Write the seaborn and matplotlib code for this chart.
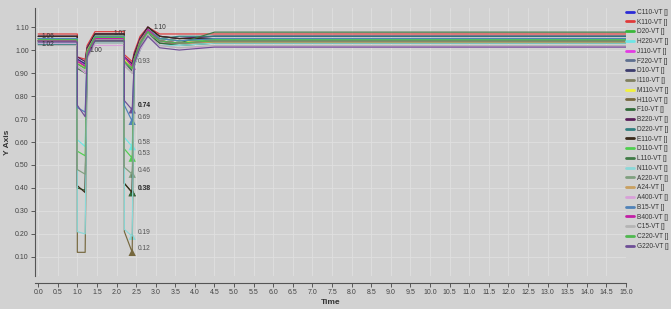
import numpy as np
import pandas as pd
import matplotlib
matplotlib.use("Agg")
import matplotlib.pyplot as plt
import seaborn as sns

# bus voltage names and colours (legend order)
buses = ["C110", "K110", "D20", "H220", "J110", "F220", "D10", "I110", "M110",
         "H110", "F10", "B220", "D220", "E110", "D110", "L110", "N110", "A220",
         "A24", "A400", "B15", "B400", "C15", "C220", "G220"]
bus_colors = ["#2b2bd6", "#e03a3a", "#3ab83a", "#6ee6e6", "#e33ae3", "#5f7090",
              "#3c3c6e", "#7f7f5f", "#f2f23c", "#76683e", "#2f6a38", "#5a1f5a",
              "#2f7f80", "#3a2a1a", "#4fcf4f", "#3f7a46", "#8ad8d8", "#7fa07f",
              "#c9a060", "#d8a0d8", "#4f82b8", "#c21fa6", "#b4b4b4", "#4eb84e",
              "#6e4e96"]

# breakpoints of the simulation (s)
times = [0.0, 1.0, 1.0, 1.2, 1.25, 1.45, 2.2, 2.2, 2.4, 2.45, 2.6, 2.8, 3.1, 3.6, 4.5, 15.0]

# voltage (pu) of every bus at each stage
pre = [1.05, 1.07, 1.04, 1.03, 1.04, 1.05, 1.06, 1.04, 1.05, 1.04, 1.03, 1.06, 1.025,
       1.06, 1.05, 1.04, 1.03, 1.04, 1.05, 1.03, 1.05, 1.04, 1.02, 1.045, 1.035]
f1_start = [0.96, 0.97, 0.95, 0.61, 0.96, 0.95, 0.96, 0.93, 0.95, 0.12, 0.40, 0.97, 0.94,
            0.41, 0.56, 0.92, 0.21, 0.48, 0.94, 0.93, 0.75, 0.95, 0.93, 0.94, 0.76]
f1_end = [0.94, 0.96, 0.93, 0.58, 0.93, 0.93, 0.94, 0.90, 0.92, 0.12, 0.39, 0.95, 0.92,
          0.38, 0.54, 0.90, 0.20, 0.46, 0.92, 0.90, 0.73, 0.93, 0.91, 0.92, 0.71]
rec1 = [1.00, 1.02, 0.99, 0.97, 0.98, 1.00, 1.01, 0.98, 0.99, 0.97, 0.97, 1.01, 0.98,
        1.00, 0.99, 0.98, 0.97, 0.98, 1.00, 0.97, 0.99, 0.98, 0.96, 0.99, 0.97]
post1 = [1.06, 1.08, 1.05, 1.04, 1.05, 1.06, 1.07, 1.05, 1.06, 1.04, 1.04, 1.07, 1.03,
         1.07, 1.06, 1.05, 1.03, 1.05, 1.06, 1.02, 1.06, 1.05, 1.03, 1.055, 1.04]
f2_start = [0.96, 0.98, 0.95, 0.62, 0.96, 0.96, 0.97, 0.94, 0.96, 0.21, 0.42, 0.97, 0.95,
            0.42, 0.57, 0.94, 0.22, 0.49, 0.95, 0.94, 0.76, 0.97, 0.93, 0.95, 0.78]
f2_end = [0.92, 0.95, 0.92, 0.58, 0.91, 0.93, 0.94, 0.90, 0.92, 0.12, 0.38, 0.94, 0.91,
          0.38, 0.53, 0.91, 0.19, 0.46, 0.92, 0.90, 0.69, 0.93, 0.90, 0.92, 0.74]
rec2 = [0.97, 0.99, 0.96, 0.93, 0.96, 0.97, 0.98, 0.95, 0.96, 0.93, 0.93, 0.98, 0.95,
        0.97, 0.95, 0.95, 0.93, 0.94, 0.96, 0.94, 0.95, 0.96, 0.93, 0.96, 0.94]
rise = [1.04, 1.06, 1.03, 1.01, 1.03, 1.04, 1.05, 1.02, 1.04, 1.01, 1.00, 1.05, 1.02,
        1.04, 1.03, 1.02, 1.00, 1.02, 1.04, 1.00, 1.03, 1.03, 1.01, 1.03, 1.01]
peak = [1.09, 1.10, 1.08, 1.07, 1.09, 1.09, 1.10, 1.08, 1.09, 1.07, 1.07, 1.10, 1.08,
        1.10, 1.09, 1.08, 1.06, 1.08, 1.09, 1.06, 1.09, 1.09, 1.07, 1.08, 1.06]
settle = [1.05, 1.07, 1.04, 1.03, 1.04, 1.05, 1.06, 1.04, 1.05, 1.03, 1.03, 1.06, 1.05,
          1.06, 1.05, 1.04, 1.02, 1.04, 1.04, 1.02, 1.05, 1.04, 1.02, 1.04, 1.01]
dip = [1.04, 1.07, 1.03, 1.02, 1.03, 1.04, 1.05, 1.03, 1.04, 1.03, 1.02, 1.05, 1.06,
       1.05, 1.04, 1.03, 1.02, 1.03, 1.03, 1.01, 1.04, 1.03, 1.01, 1.03, 1.00]
final = [1.05, 1.07, 1.045, 1.03, 1.04, 1.05, 1.06, 1.035, 1.035, 1.035, 1.03, 1.06, 1.06,
         1.05, 1.045, 1.078, 1.03, 1.04, 1.035, 1.013, 1.05, 1.04, 1.02, 1.04, 1.013]

stages = [pre, pre, f1_start, f1_end, rec1, post1, post1, f2_start, f2_end,
          rec2, rise, peak, settle, dip, final, final]

# buses marked at the end of the second fault
marked = ["B400", "G220", "B15", "H220", "D110", "A220", "E110", "F10", "N110", "H110"]
bold_marks = ["G220", "E110"]
marker_time = 2.4

# extra value notes on the curves
note_bus = ["D10", "D220", "E110", "B220", "K110"]
note_time = [0.05, 0.05, 1.27, 1.9, 2.9]
note_stage = [0, 0, 4, 5, 11]

rows = []
for t, vals in zip(times, stages):
    for b, v in zip(buses, vals):
        rows.append({"Time": t, "value": v, "bus": b + "-VT []"})
df = pd.DataFrame(rows)

bg = "#d2d2d2"
sns.set_style("whitegrid", {"axes.facecolor": bg, "figure.facecolor": bg,
                            "grid.color": "#e0e0e0", "axes.edgecolor": "#555555"})
plt.rcParams["font.family"] = ["Liberation Sans", "DejaVu Sans"]

fig = plt.figure(figsize=(6.71, 3.09), dpi=100)
ax = fig.add_axes([35 / 671, 1 - 276 / 309, (626 - 35) / 671, (276 - 8) / 309])

palette = dict(zip([b + "-VT []" for b in buses], bus_colors))
sns.lineplot(data=df, x="Time", y="value", hue="bus", palette=palette,
             sort=False, estimator=None, linewidth=0.85, ax=ax)

mk = pd.DataFrame({"Time": [marker_time] * len(marked),
                   "value": [f2_end[buses.index(b)] for b in marked],
                   "bus": [b + "-VT []" for b in marked]})
sns.scatterplot(data=mk, x="Time", y="value", hue="bus", palette=palette,
                marker="^", s=28, edgecolor="none", legend=False, ax=ax)
for b, v in zip(marked, mk["value"]):
    ax.annotate(f"{v:.2f}", (marker_time, v), xytext=(4, 3), textcoords="offset points",
                fontsize=4.8, va="center",
                color="#222222" if b in bold_marks else "#555555",
                fontweight="bold" if b in bold_marks else "normal")

for b, t, s in zip(note_bus, note_time, note_stage):
    v = stages[s][buses.index(b)]
    ax.annotate(f"{v:.2f}", (t, v), xytext=(1, 0), textcoords="offset points",
                fontsize=4.8, va="center", color="#333333")

ax.set_xlim(-0.08, 15.0)
ax.set_ylim(0.017, 1.183)
ax.set_xticks(np.arange(0, 15.01, 0.5))
ax.set_yticks(np.arange(0.1, 1.101, 0.1))
ax.xaxis.set_major_formatter(matplotlib.ticker.FormatStrFormatter("%.1f"))
ax.yaxis.set_major_formatter(matplotlib.ticker.FormatStrFormatter("%.2f"))
ax.tick_params(axis="both", labelsize=5, colors="#444444", length=3, width=0.6,
               pad=1.5, bottom=True, left=True)
ax.grid(True, linewidth=0.6)
for side in ["top", "right"]:
    ax.spines[side].set_visible(False)
ax.spines["bottom"].set_position(("outward", 5))
ax.spines["left"].set_linewidth(0.8)
ax.spines["bottom"].set_linewidth(0.8)
ax.set_xlabel("Time", fontsize=6, fontweight="bold", color="#333333", labelpad=2)
ax.set_ylabel("Y Axis", fontsize=6, fontweight="bold", color="#333333", labelpad=3)

ax.legend(loc="upper left", bbox_to_anchor=(626 / 671, 1 - 9 / 309),
          bbox_transform=fig.transFigure, frameon=False, fontsize=4.7,
          handlelength=1.3, handletextpad=0.4, labelspacing=0.42,
          borderaxespad=0, borderpad=0)
for line in ax.get_legend().get_lines():
    line.set_linewidth(2)
for txt in ax.get_legend().get_texts():
    txt.set_color("#333333")

fig.savefig("out.png", dpi=100, facecolor=bg)
